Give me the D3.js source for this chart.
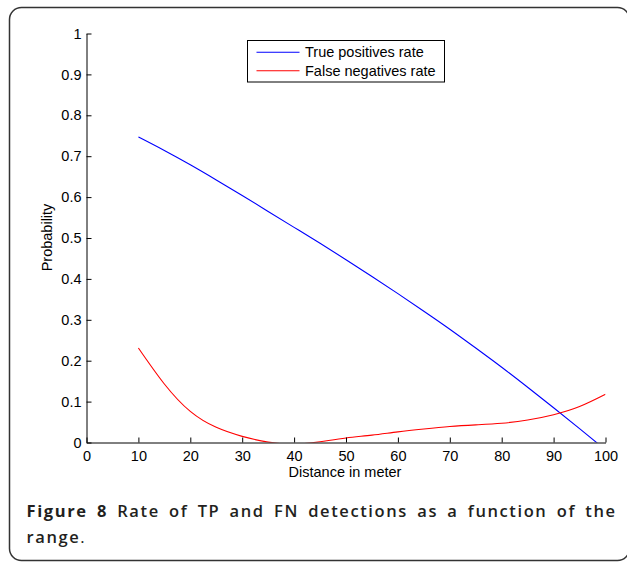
<!DOCTYPE html>
<html>
<head>
<meta charset="utf-8">
<script src="https://cdnjs.cloudflare.com/ajax/libs/d3/7.8.5/d3.min.js"></script>
<style>
  body { margin: 0; background: #fff; }
  svg { display: block; }
</style>
</head>
<body>
<svg id="chart"></svg>
<script>
// data
var distance = [10, 15, 20, 25, 30, 35, 40, 45, 50, 55, 60, 65, 70, 75, 80, 85, 90, 95, 100];
var truePositives = [0.747, 0.714, 0.679, 0.642, 0.604, 0.565, 0.526, 0.487, 0.447, 0.406, 0.364, 0.321, 0.277, 0.231, 0.184, 0.135, 0.085, 0.034, -0.018];
var falseNegatives = [0.231, 0.143, 0.076, 0.037, 0.015, 0.001, -0.004, 0.002, 0.011, 0.018, 0.026, 0.033, 0.039, 0.043, 0.047, 0.055, 0.068, 0.088, 0.118];
var xTicks = [0, 10, 20, 30, 40, 50, 60, 70, 80, 90, 100];
var yTicks = [0, 0.1, 0.2, 0.3, 0.4, 0.5, 0.6, 0.7, 0.8, 0.9, 1];
var seriesNames = ['True positives rate', 'False negatives rate'];
var seriesColors = ['#0000ff', '#ff0000'];

var width = 627;
var height = 562;
var svg = d3.select('#chart')
  .attr('width', width)
  .attr('height', height);

// frame around figure + caption
svg.append('rect')
  .attr('x', 9.5)
  .attr('y', 7.5)
  .attr('width', 620)
  .attr('height', 553)
  .attr('rx', 12)
  .style('fill', 'none')
  .style('stroke', '#333')
  .style('stroke-width', 1.5);

var xScale = d3.scaleLinear().domain([0, 100]).range([86.5, 605.5]);
var yScale = d3.scaleLinear().domain([0, 1]).range([442.5, 33.5]);

svg.append('defs').append('clipPath')
    .attr('id', 'plotclip')
  .append('rect')
    .attr('x', xScale(0))
    .attr('y', yScale(1))
    .attr('width', xScale(100) - xScale(0))
    .attr('height', yScale(0) - yScale(1));

var line = d3.line()
  .x(d => xScale(d[0]))
  .y(d => yScale(d[1]))
  .curve(d3.curveNatural);

var series = [truePositives, falseNegatives];
svg.append('g')
    .attr('clip-path', 'url(#plotclip)')
  .selectAll('path')
  .data(series)
  .enter()
  .append('path')
    .attr('d', vals => line(vals.map((v, i) => [distance[i], v])))
    .style('fill', 'none')
    .style('stroke', (d, i) => seriesColors[i])
    .style('stroke-width', 1.1);

// axes, ticks point inward like matlab
var xAxis = d3.axisBottom(xScale)
  .tickValues(xTicks)
  .tickSizeInner(-5)
  .tickSizeOuter(0)
  .tickPadding(8)
  .tickFormat(d3.format('d'));

var yAxis = d3.axisLeft(yScale)
  .tickValues(yTicks)
  .tickSizeInner(-5)
  .tickSizeOuter(0)
  .tickPadding(5)
  .tickFormat(d => d === 0 || d === 1 ? d : d3.format('.1f')(d));

var gx = svg.append('g')
  .attr('transform', 'translate(0,' + yScale(0) + ')')
  .call(xAxis);

var gy = svg.append('g')
  .attr('transform', 'translate(' + xScale(0) + ',0)')
  .call(yAxis);

[gx, gy].forEach(function(g) {
  g.selectAll('path, line').style('stroke', '#000');
  g.selectAll('text')
    .style('font-family', '"Liberation Sans", Arial, sans-serif')
    .style('font-size', '14.5px')
    .style('fill', '#000');
});

// axis labels
svg.append('text')
  .attr('x', 345)
  .attr('y', 477)
  .attr('text-anchor', 'middle')
  .style('font-family', '"Liberation Sans", Arial, sans-serif')
  .style('font-size', '14.5px')
  .text('Distance in meter');

svg.append('text')
  .attr('transform', 'translate(52,237.5) rotate(-90)')
  .attr('text-anchor', 'middle')
  .style('font-family', '"Liberation Sans", Arial, sans-serif')
  .style('font-size', '14.5px')
  .text('Probability');

// legend
var legend = svg.append('g');
legend.append('rect')
  .attr('x', 247.5)
  .attr('y', 40.5)
  .attr('width', 197)
  .attr('height', 41.5)
  .style('fill', '#fff')
  .style('stroke', '#000')
  .style('stroke-width', 1);

var rows = legend.selectAll('g.row')
  .data(seriesNames)
  .enter()
  .append('g')
    .attr('class', 'row')
    .attr('transform', (d, i) => 'translate(0,' + (52.3 + i * 18.5) + ')');

rows.append('line')
  .attr('x1', 256.5)
  .attr('x2', 299.5)
  .style('stroke', (d, i) => seriesColors[i])
  .style('stroke-width', 1.1);

rows.append('text')
  .attr('x', 305)
  .attr('y', 5)
  .style('font-family', '"Liberation Sans", Arial, sans-serif')
  .style('font-size', '14.5px')
  .text(d => d);

// caption: line one justified word by word
var captionFont = '"Open Sans", "Noto Sans", sans-serif';
var capWords = ['Figure', '8', 'Rate', 'of', 'TP', 'and', 'FN', 'detections', 'as', 'a', 'function', 'of', 'the'];
var capLeft = 26.5, capRight = 615;

var wordNodes = svg.append('g')
  .selectAll('text')
  .data(capWords)
  .enter()
  .append('text')
    .attr('y', 516.5)
    .style('font-family', captionFont)
    .style('font-size', '16.5px')
    .style('letter-spacing', '1.6px')
    .style('font-weight', (d, i) => i < 2 ? 700 : 600)
    .style('fill', '#231f20')
    .text(d => d);

var widths = [];
wordNodes.each(function() { widths.push(this.getComputedTextLength() - 1.6); });
var gap = (capRight - capLeft - d3.sum(widths)) / (capWords.length - 1);
var pos = capLeft;
wordNodes.attr('x', function(d, i) {
  var x = pos;
  pos += widths[i] + gap;
  return x;
});

var cap2 = svg.append('text')
  .attr('x', capLeft)
  .attr('y', 543)
  .style('font-family', captionFont)
  .style('font-size', '16.5px')
  .style('letter-spacing', '1.6px')
  .style('fill', '#231f20');
cap2.append('tspan').style('font-weight', 600).text('range');
cap2.append('tspan').style('font-weight', 400).text('.');
</script>
</body>
</html>
